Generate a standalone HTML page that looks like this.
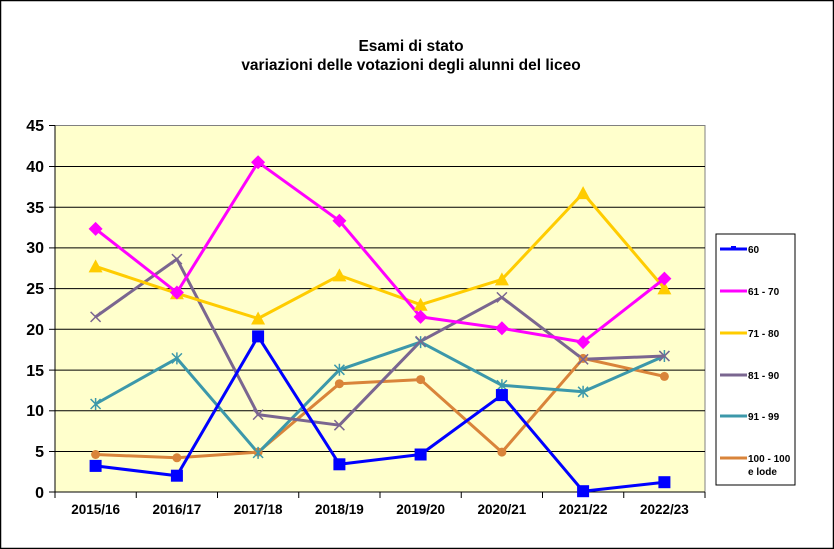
<!DOCTYPE html>
<html><head><meta charset="utf-8"><style>
html,body{margin:0;padding:0;background:#fff}
svg{display:block;font-family:"Liberation Sans",Arial,sans-serif}
</style></head><body>
<svg width="834" height="549" viewBox="0 0 834 549" xmlns="http://www.w3.org/2000/svg">
<defs>
<g id="sq"><rect x="-6" y="-6" width="12" height="12" fill="#0000ff"/></g>
<g id="dm"><polygon points="0,-7 7,0 0,7 -7,0" fill="#ff00ff"/></g>
<g id="tr"><polygon points="0,-7 7,6 -7,6" fill="#ffcc00"/></g>
<g id="xx"><path d="M-5,-5L5,5M-5,5L5,-5" stroke="#7a6690" stroke-width="1.5"/></g>
<g id="st"><path d="M-5,-5L5,5M-5,5L5,-5M0,-6V6" stroke="#3c98aa" stroke-width="1.5"/></g>
<g id="ci"><circle r="4.5" fill="#d9843a"/></g>
</defs>
<rect x="0.5" y="0.5" width="833" height="548" fill="#fff" stroke="#000" stroke-width="1.5"/>
<text x="411" y="51" font-size="15.5" font-weight="bold" text-anchor="middle">Esami di stato</text>
<text x="411" y="70" font-size="15.5" font-weight="bold" text-anchor="middle">variazioni delle votazioni degli alunni del liceo</text>
<rect x="55" y="125.5" width="650" height="366.5" fill="#ffffcc" stroke="#808080"/>
<g stroke="#000" stroke-width="1">
<line x1="55" x2="705" y1="166.5" y2="166.5"/><line x1="55" x2="705" y1="207.2" y2="207.2"/>
<line x1="55" x2="705" y1="247.9" y2="247.9"/><line x1="55" x2="705" y1="288.6" y2="288.6"/>
<line x1="55" x2="705" y1="329.3" y2="329.3"/><line x1="55" x2="705" y1="370.1" y2="370.1"/>
<line x1="55" x2="705" y1="410.8" y2="410.8"/><line x1="55" x2="705" y1="451.5" y2="451.5"/>
<line x1="55" x2="705" y1="492" y2="492"/><line x1="55" x2="55" y1="125.5" y2="492"/>
<line x1="49" x2="55" y1="125.5" y2="125.5"/><line x1="49" x2="55" y1="166.5" y2="166.5"/><line x1="49" x2="55" y1="207.2" y2="207.2"/><line x1="49" x2="55" y1="247.9" y2="247.9"/><line x1="49" x2="55" y1="288.6" y2="288.6"/><line x1="49" x2="55" y1="329.3" y2="329.3"/><line x1="49" x2="55" y1="370.1" y2="370.1"/><line x1="49" x2="55" y1="410.8" y2="410.8"/><line x1="49" x2="55" y1="451.5" y2="451.5"/><line x1="49" x2="55" y1="492" y2="492"/>
<path d="M55,492v6M136.25,492v6M217.5,492v6M298.75,492v6M380,492v6M461.25,492v6M542.5,492v6M623.75,492v6M705,492v6"/>
</g>
<g font-size="16" font-weight="bold" text-anchor="end">
<text x="44" y="131">45</text><text x="44" y="172">40</text><text x="44" y="213">35</text><text x="44" y="253">30</text><text x="44" y="294">25</text><text x="44" y="335">20</text><text x="44" y="376">15</text><text x="44" y="416">10</text><text x="44" y="457">5</text><text x="44" y="498">0</text>
</g>
<g font-size="13.5" font-weight="bold" text-anchor="middle">
<text x="95.6" y="514">2015/16</text><text x="176.9" y="514">2016/17</text><text x="258.1" y="514">2017/18</text><text x="339.4" y="514">2018/19</text><text x="420.6" y="514">2019/20</text><text x="501.9" y="514">2020/21</text><text x="583.1" y="514">2021/22</text><text x="664.4" y="514">2022/23</text>
</g>
<g fill="none" stroke-width="3" stroke-linejoin="round">
<polyline stroke="#d9843a" points="95.6,454.5 176.9,457.8 258.1,452.1 339.4,383.7 420.6,379.6 501.9,452.1 583.1,358.4 664.4,376.4"/>
<polyline stroke="#3c98aa" points="95.6,404 176.9,358.4 258.1,452.9 339.4,369.8 420.6,342.1 501.9,385.3 583.1,391.8 664.4,356"/>
<polyline stroke="#7a6690" points="95.6,316.9 176.9,259.1 258.1,414.6 339.4,425.2 420.6,341.3 501.9,297.4 583.1,359.3 664.4,356"/>
<polyline stroke="#ffcc00" points="95.6,266.4 176.9,293.3 258.1,318.5 339.4,275.4 420.6,304.7 501.9,279.4 583.1,193.1 664.4,288.4"/>
<polyline stroke="#ff00ff" points="95.6,228.9 176.9,292.5 258.1,162.2 339.4,220.8 420.6,316.9 501.9,328.3 583.1,342.1 664.4,278.6"/>
<polyline stroke="#0000ff" points="95.6,465.9 176.9,475.7 258.1,336.4 339.4,464.3 420.6,454.5 501.9,395.1 583.1,491.2 664.4,482.2"/>
</g>
<use href="#ci" x="95.6" y="454.5"/><use href="#ci" x="176.9" y="457.8"/><use href="#ci" x="258.1" y="452.1"/><use href="#ci" x="339.4" y="383.7"/><use href="#ci" x="420.6" y="379.6"/><use href="#ci" x="501.9" y="452.1"/><use href="#ci" x="583.1" y="358.4"/><use href="#ci" x="664.4" y="376.4"/>
<use href="#st" x="95.6" y="404"/><use href="#st" x="176.9" y="358.4"/><use href="#st" x="258.1" y="452.9"/><use href="#st" x="339.4" y="369.8"/><use href="#st" x="420.6" y="342.1"/><use href="#st" x="501.9" y="385.3"/><use href="#st" x="583.1" y="391.8"/><use href="#st" x="664.4" y="356"/>
<use href="#xx" x="95.6" y="316.9"/><use href="#xx" x="176.9" y="259.1"/><use href="#xx" x="258.1" y="414.6"/><use href="#xx" x="339.4" y="425.2"/><use href="#xx" x="420.6" y="341.3"/><use href="#xx" x="501.9" y="297.4"/><use href="#xx" x="583.1" y="359.3"/><use href="#xx" x="664.4" y="356"/>
<use href="#tr" x="95.6" y="266.4"/><use href="#tr" x="176.9" y="293.3"/><use href="#tr" x="258.1" y="318.5"/><use href="#tr" x="339.4" y="275.4"/><use href="#tr" x="420.6" y="304.7"/><use href="#tr" x="501.9" y="279.4"/><use href="#tr" x="583.1" y="193.1"/><use href="#tr" x="664.4" y="288.4"/>
<use href="#dm" x="95.6" y="228.9"/><use href="#dm" x="176.9" y="292.5"/><use href="#dm" x="258.1" y="162.2"/><use href="#dm" x="339.4" y="220.8"/><use href="#dm" x="420.6" y="316.9"/><use href="#dm" x="501.9" y="328.3"/><use href="#dm" x="583.1" y="342.1"/><use href="#dm" x="664.4" y="278.6"/>
<use href="#sq" x="95.6" y="465.9"/><use href="#sq" x="176.9" y="475.7"/><use href="#sq" x="258.1" y="336.4"/><use href="#sq" x="339.4" y="464.3"/><use href="#sq" x="420.6" y="454.5"/><use href="#sq" x="501.9" y="395.1"/><use href="#sq" x="583.1" y="491.2"/><use href="#sq" x="664.4" y="482.2"/>
<rect x="716" y="234" width="79" height="251" fill="#fff" stroke="#000"/>
<g stroke-width="3">
<line x1="720" x2="747" y1="249" y2="249" stroke="#0000ff"/><rect x="731" y="246" width="5" height="4" fill="#0000ff"/>
<line x1="720" x2="747" y1="291" y2="291" stroke="#ff00ff"/>
<line x1="720" x2="747" y1="333" y2="333" stroke="#ffcc00"/>
<line x1="720" x2="747" y1="375" y2="375" stroke="#7a6690"/>
<line x1="720" x2="747" y1="416" y2="416" stroke="#3c98aa"/>
<line x1="720" x2="747" y1="458" y2="458" stroke="#d9843a"/>
</g>
<g font-size="10" font-weight="bold">
<text x="748" y="253">60</text><text x="748" y="295">61 - 70</text><text x="748" y="337">71 - 80</text><text x="748" y="379">81 - 90</text><text x="748" y="420">91 - 99</text><text x="748" y="462">100 - 100</text><text x="748" y="475">e lode</text>
</g>
</svg>
</body></html>
